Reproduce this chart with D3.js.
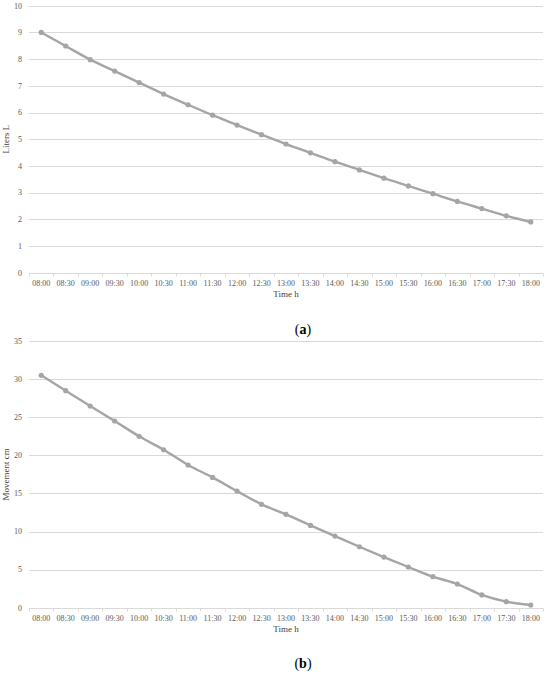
<!DOCTYPE html>
<html>
  <head>
    <meta charset="utf-8" />
    <title>line charts</title>
    <script src="https://d3js.org/d3.v7.min.js"></script>
    <style>
      body {
        margin: 0;
        background: #fff;
      }
      text {
        font-family: "Liberation Serif", serif;
      }
    </style>
  </head>
  <body>

    <svg id="chart"></svg>

    <script>

      var times = ["08:00", "08:30", "09:00", "09:30", "10:00", "10:30", "11:00", "11:30",
        "12:00", "12:30", "13:00", "13:30", "14:00", "14:30", "15:00", "15:30",
        "16:00", "16:30", "17:00", "17:30", "18:00"];

      var liters = [9.0, 8.49, 7.98, 7.55, 7.12, 6.69, 6.29, 5.9, 5.53, 5.17, 4.82,
        4.49, 4.16, 3.85, 3.54, 3.25, 2.96, 2.67, 2.4, 2.13, 1.9];

      var movement = [30.5, 28.48, 26.47, 24.5, 22.49, 20.73, 18.73, 17.1, 15.3, 13.57,
        12.25, 10.8, 9.4, 8.0, 6.65, 5.34, 4.07, 3.11, 1.67, 0.79, 0.35];

      var litersTicks = [0, 1, 2, 3, 4, 5, 6, 7, 8, 9, 10];
      var movementTicks = [0, 5, 10, 15, 20, 25, 30, 35];

      var width = 550;
      var height = 675;
      var lineColor = "#a5a5a5";
      var gridColor = "#d9d9d9";

      var svg = d3.select("#chart")
        .attr("width", width)
        .attr("height", height);

      var x = d3.scaleBand()
        .domain(times)
        .range([29, 543])
        .padding(0);

      function drawPanel(values, ticks, top, bottom, yTitle, caption, captionY) {
        var g = svg.append("g");

        var y = d3.scaleLinear()
          .domain([0, ticks[ticks.length - 1]])
          .range([bottom, top]);

        // grid lines
        g.selectAll(".grid")
          .data(ticks)
          .enter().append("line")
          .attr("x1", x.range()[0])
          .attr("x2", x.range()[1])
          .attr("y1", function(d) { return Math.round(y(d)) + 0.5; })
          .attr("y2", function(d) { return Math.round(y(d)) + 0.5; })
          .attr("stroke", gridColor)
          .attr("stroke-width", 1);

        // y tick labels
        g.selectAll(".ylab")
          .data(ticks)
          .enter().append("text")
          .attr("x", 22)
          .attr("y", function(d) { return y(d); })
          .attr("dy", "0.35em")
          .attr("text-anchor", "end")
          .attr("font-size", "8px")
          .attr("fill", "#595959")
          .text(function(d) { return d; });

        // x axis ticks and labels
        var xAxis = d3.axisBottom(x).tickSize(0).tickPadding(7);
        var ax = g.append("g")
          .attr("transform", "translate(0," + (Math.round(y(0)) + 0.5) + ")")
          .call(xAxis);
        ax.select(".domain").remove();
        ax.selectAll("text")
          .attr("font-family", "Liberation Serif, serif")
          .attr("font-size", "8px")
          .attr("fill", "#595959");

        var bounds = times.map(function(t) { return x(t); }).concat([x.range()[1]]);
        ax.selectAll(".btick")
          .data(bounds)
          .enter().append("line")
          .attr("x1", function(d) { return Math.round(d) + 0.5; })
          .attr("x2", function(d) { return Math.round(d) + 0.5; })
          .attr("y1", 0)
          .attr("y2", 3)
          .attr("stroke", gridColor);

        // axis titles
        g.append("text")
          .attr("x", (x.range()[0] + x.range()[1]) / 2)
          .attr("y", y(0) + 24)
          .attr("text-anchor", "middle")
          .attr("font-size", "9px")
          .attr("fill", "#404040")
          .text("Time h");

        g.append("text")
          .attr("transform", "translate(9," + (top + bottom) / 2 + ") rotate(-90)")
          .attr("text-anchor", "middle")
          .attr("font-size", "9px")
          .attr("fill", "#404040")
          .text(yTitle);

        // line
        var line = d3.line()
          .x(function(d, i) { return x(times[i]) + x.bandwidth() / 2; })
          .y(function(d) { return y(d); })
          .curve(d3.curveMonotoneX);

        g.append("path")
          .datum(values)
          .attr("fill", "none")
          .attr("stroke", lineColor)
          .attr("stroke-width", 2.4)
          .attr("stroke-linecap", "round")
          .attr("d", line);

        g.selectAll(".dot")
          .data(values)
          .enter().append("circle")
          .attr("cx", function(d, i) { return x(times[i]) + x.bandwidth() / 2; })
          .attr("cy", function(d) { return y(d); })
          .attr("r", 2.6)
          .attr("fill", lineColor);

        // caption
        var cap = g.append("text")
          .attr("x", 303)
          .attr("y", captionY)
          .attr("dy", "0.35em")
          .attr("text-anchor", "middle")
          .attr("font-size", "14px")
          .attr("fill", "#000");
        cap.append("tspan").text("(");
        cap.append("tspan").attr("font-weight", "bold").text(caption);
        cap.append("tspan").text(")");
      }

      drawPanel(liters, litersTicks, 5.7, 272.7, "Liters L", "a", 329);
      drawPanel(movement, movementTicks, 341, 607.7, "Movement cm", "b", 663);

    </script>

  </body>
</html>
